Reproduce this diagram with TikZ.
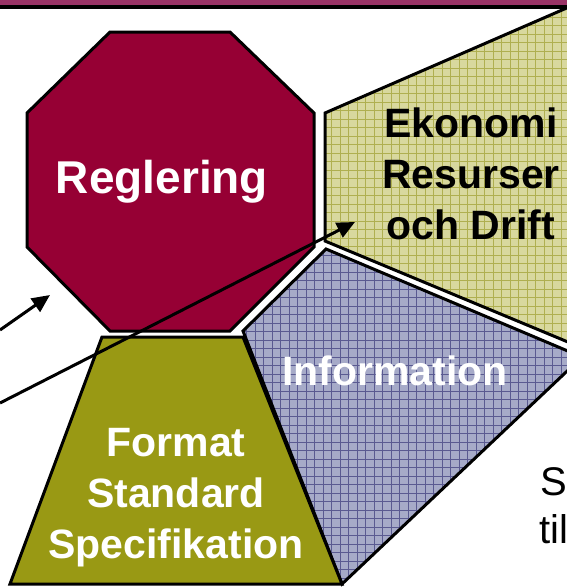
\documentclass[tikz,border=0pt]{standalone}
\usepackage{fontspec}
\setmainfont{Liberation Sans}
\usepackage{xcolor}
\usetikzlibrary{arrows.meta, positioning}

\definecolor{bandlila}{RGB}{153,51,102}
\definecolor{vinrod}{RGB}{150,0,52}
\definecolor{oliv}{RGB}{153,153,20}
\definecolor{khaki}{RGB}{216,216,158}
\definecolor{khakilinje}{RGB}{175,175,80}
\definecolor{gråblå}{RGB}{166,170,200}
\definecolor{blålinje}{RGB}{90,90,145}

\begin{document}
\begin{tikzpicture}[x=1pt, y=-1pt,
		kant/.style={draw=black, line width=3pt, line join=miter},
		etikett/.style={font=\bfseries\fontsize{41}{51}\selectfont, align=center, inner sep=0pt},
		pil/.style={line width=3pt, -{Triangle[length=18pt, width=16pt]}}]
		
		\useasboundingbox (0,0) rectangle (567,587);
		\clip (0,0) rectangle (567,587);
		
		% Ekonomi (rutat)
		\begin{scope}
			\clip (325,113) -- (592,-3) -- (592,352) -- (325,241) -- cycle;
			\fill[khaki] (300,-10) rectangle (600,360);
			\draw[khakilinje, line width=0.5pt, step=8.5pt] (300,-10) grid (600,360);
		\end{scope}
		\draw[kant] (325,113) -- (592,-3) -- (592,352) -- (325,241) -- cycle;
		
		% Reglering
		\filldraw[kant, fill=vinrod] (110,32) -- (230,32) -- (314,113) -- (314,247) -- (230,331)
			-- (110,331) -- (27,247) -- (27,113) -- cycle;
		
		% Information (rutat)
		\begin{scope}
			\clip (326,249) -- (582,357) -- (342,584) -- (243,331) -- cycle;
			\fill[gråblå] (230,240) rectangle (590,590);
			\draw[blålinje, line width=0.45pt, step=8.5pt] (230,240) grid (590,590);
		\end{scope}
		\draw[kant] (326,249) -- (582,357) -- (342,584) -- (243,331) -- cycle;
		
		% Format
		\filldraw[kant, fill=oliv] (102,337) -- (243,337) -- (342,584) -- (10,584) -- cycle;
		
		% Band
		\fill[bandlila] (0,0) rectangle (567,5);
		\fill[black] (0,5) rectangle (567,8.5);
		
		% Texter
		\node[etikett, text=white, anchor=base, font=\bfseries\fontsize{46}{51}\selectfont] (reglering) at (162,193) {Reglering};
		\node[etikett, text=black] (ekonomi) at (471,174) {Ekonomi\\Resurser\\och Drift};
		\node[etikett, text=white, anchor=base] (information) at (395,385) {Information};
		\node[etikett, text=white] (format) at (176,498) {Format\\Standard\\Specifikation};
		\node[anchor=base west, inner sep=0pt, font=\fontsize{40}{40}\selectfont] (stext) at (540,495) {S};
		\node[anchor=base west, inner sep=0pt, font=\fontsize{40}{40}\selectfont] (tiltext) at (539,543) {til};
		
		% Pilar
		\coordinate (pilA) at (0,330);
		\coordinate (pilAmal) at (50,295);
		\coordinate (pilB) at (0,403);
		\coordinate (pilBmal) at (355,222);
		\draw[pil] (pilA) -- (pilAmal);
		\draw[pil] (pilB) -- (pilBmal);
		
	\end{tikzpicture}
\end{document}
